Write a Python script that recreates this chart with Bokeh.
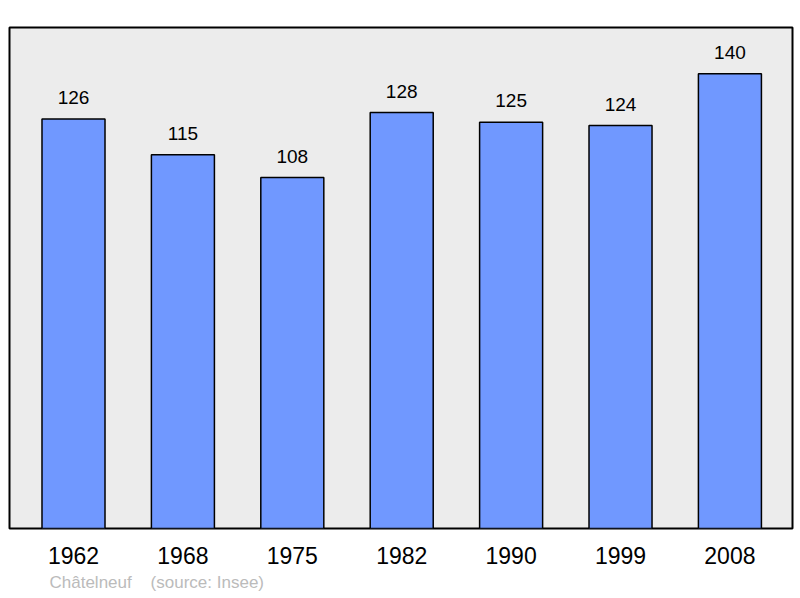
from bokeh.plotting import figure
from bokeh.models import FixedTicker, Range1d, Title, ColumnDataSource
from bokeh.core.properties import value
from bokeh.embed import file_html
from bokeh.resources import INLINE

years = ["1962", "1968", "1975", "1982", "1990", "1999", "2008"]
population = [126, 115, 108, 128, 125, 124, 140]
place = "Châtelneuf"
source_note = "(source: Insee)"

idx = list(range(len(years)))
src = ColumnDataSource(dict(x=idx, y=population, label=[str(v) for v in population]))

p = figure(width=798, height=596, output_backend="svg", toolbar_location=None,
           x_range=Range1d(-0.585, 6.572), y_range=Range1d(0, 154.2),
           min_border_left=9, min_border_right=6, min_border_top=27, min_border_bottom=68)
p.background_fill_color = "#ececec"
p.border_fill_color = "white"
p.outline_line_color = "black"
p.outline_line_width = 2
p.xgrid.visible = False
p.ygrid.visible = False
p.yaxis.visible = False

# bars
p.vbar(x="x", top="y", width=0.576, bottom=0, source=src,
       fill_color="#7098ff", line_color="black", line_width=1.5)

# values above the bars
p.text(x="x", y="y", text="label", source=src, text_align="center",
       text_baseline="bottom", y_offset=-15, text_font_size="19px",
       text_font=value("Liberation Sans"), text_color="black")

# year labels
p.xaxis.ticker = FixedTicker(ticks=idx)
p.xaxis.major_label_overrides = {i: y for i, y in zip(idx, years)}
p.xaxis.axis_line_color = None
p.xaxis.major_tick_line_color = None
p.xaxis.minor_tick_line_color = None
p.xaxis.major_label_text_font = "Liberation Sans"
p.xaxis.major_label_text_font_size = "23px"
p.xaxis.major_label_text_color = "black"
p.xaxis.major_label_standoff = 12

# source line under the chart
p.add_layout(Title(text=place + "\u00a0\u00a0\u00a0 " + source_note, align="left",
                   offset=40, text_font="Liberation Sans", text_font_size="17px",
                   text_font_style="normal", text_color="#bbbbbb", standoff=8),
             "below")

open("out.html", "w").write(file_html(p, INLINE))
